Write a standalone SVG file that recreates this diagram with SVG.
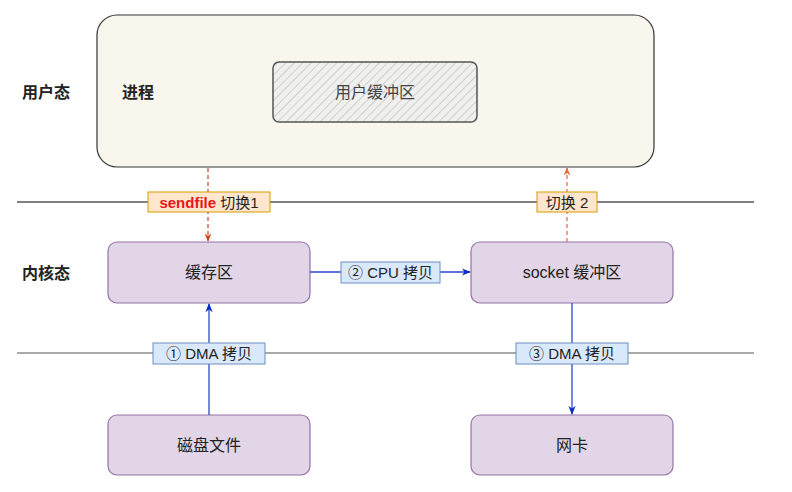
<svg xmlns="http://www.w3.org/2000/svg" width="792" height="492" viewBox="0 0 792 492">
<defs>
<style>
text{font-family:"Liberation Sans","Noto Sans CJK SC",sans-serif;font-size:16px;fill:#222;dominant-baseline:central;text-anchor:middle}
.bold{font-weight:bold;text-anchor:start;font-size:16px}
.lt{font-size:15px}
.node{fill:#e1d5e7;stroke:#9673a6;stroke-width:1.2}
.sep{stroke:#000;stroke-width:1}
.sep2{stroke:#555;stroke-width:1}
.blue{stroke:#2a46d0;stroke-width:1.3;fill:none}
.lblb{fill:#dae8fc;stroke:#6c8ebf;stroke-width:1}
.lblo{fill:#ffe6cc;stroke:#d79b00;stroke-width:1}
</style>
<pattern id="hatch" width="6" height="6" patternUnits="userSpaceOnUse" patternTransform="rotate(45)">
<rect width="6" height="6" fill="#f0f0ee"/>
<line x1="0" y1="0" x2="0" y2="6" stroke="#9a9a9a" stroke-width="0.8"/>
</pattern>
<marker id="ab" viewBox="0 0 10 10" refX="9" refY="5" markerWidth="7" markerHeight="7" orient="auto-start-reverse"><path d="M0,1 L10,5 L0,9 L3,5 z" fill="#0a2cc4"/></marker>
<marker id="ao" viewBox="0 0 10 10" refX="9" refY="5" markerWidth="7" markerHeight="7" orient="auto-start-reverse"><path d="M0,1 L10,5 L0,9 L3,5 z" fill="#c9441a"/></marker>
<marker id="ao2" viewBox="0 0 10 10" refX="9" refY="5" markerWidth="7" markerHeight="7" orient="auto-start-reverse"><path d="M0,1 L10,5 L0,9 L3,5 z" fill="#e8663a"/></marker>
</defs>
<rect width="792" height="492" fill="#fff"/>

<g id="layers">
<text class="bold" x="22" y="92">用户态</text>
<text class="bold" x="22" y="273">内核态</text>
<line class="sep" x1="17" y1="202" x2="754" y2="202"/>
<line class="sep2" x1="17" y1="353" x2="754" y2="353"/>
</g>

<g id="process">
<rect x="97" y="15" width="557" height="152" rx="20" fill="#f9f7ed" stroke="#333" stroke-width="1.2"/>
<text class="bold" x="122" y="92">进程</text>
</g>
<g id="user-buffer">
<rect x="273" y="62" width="204" height="60" rx="6" fill="url(#hatch)" stroke="#555" stroke-width="1.5"/>
<text x="375" y="92" style="fill:#444">用户缓冲区</text>
</g>

<g id="page-cache">
<rect class="node" x="108" y="242" width="202" height="61" rx="9"/>
<text x="209" y="272">缓存区</text>
</g>
<g id="socket-buffer">
<rect class="node" x="471" y="242" width="202" height="61" rx="9"/>
<text x="572" y="272">socket 缓冲区</text>
</g>
<g id="disk">
<rect class="node" x="108" y="415" width="202" height="60" rx="9"/>
<text x="209" y="445">磁盘文件</text>
</g>
<g id="nic">
<rect class="node" x="471" y="415" width="202" height="60" rx="9"/>
<text x="572" y="445">网卡</text>
</g>

<g id="connectors">
<line x1="208" y1="168" x2="208" y2="241" stroke="#c9441a" stroke-width="1.2" stroke-dasharray="4 3" marker-end="url(#ao)"/>
<line x1="567" y1="242" x2="567" y2="168" stroke="#e8663a" stroke-width="1.2" stroke-dasharray="4 3" marker-end="url(#ao2)"/>
<line class="blue" x1="310" y1="272" x2="470" y2="272" marker-end="url(#ab)"/>
<line class="blue" x1="209" y1="415" x2="209" y2="304" marker-end="url(#ab)"/>
<line class="blue" x1="572" y1="303" x2="572" y2="414" marker-end="url(#ab)"/>

<rect class="lblo" x="148" y="192" width="122" height="20"/>
<text class="lt" x="209" y="202"><tspan style="fill:#e8141b;font-weight:bold">sendfile</tspan> 切换1</text>
<rect class="lblo" x="537" y="192" width="60" height="20"/>
<text class="lt" x="567" y="202">切换 2</text>
<rect class="lblb" x="341" y="262" width="99" height="21"/>
<text class="lt" x="390.5" y="272.5">② CPU 拷贝</text>
<rect class="lblb" x="153" y="343" width="112" height="21"/>
<text class="lt" x="209" y="353.5">① DMA 拷贝</text>
<rect class="lblb" x="516" y="343" width="112" height="21"/>
<text class="lt" x="572" y="353.5">③ DMA 拷贝</text>
</g>
</svg>
